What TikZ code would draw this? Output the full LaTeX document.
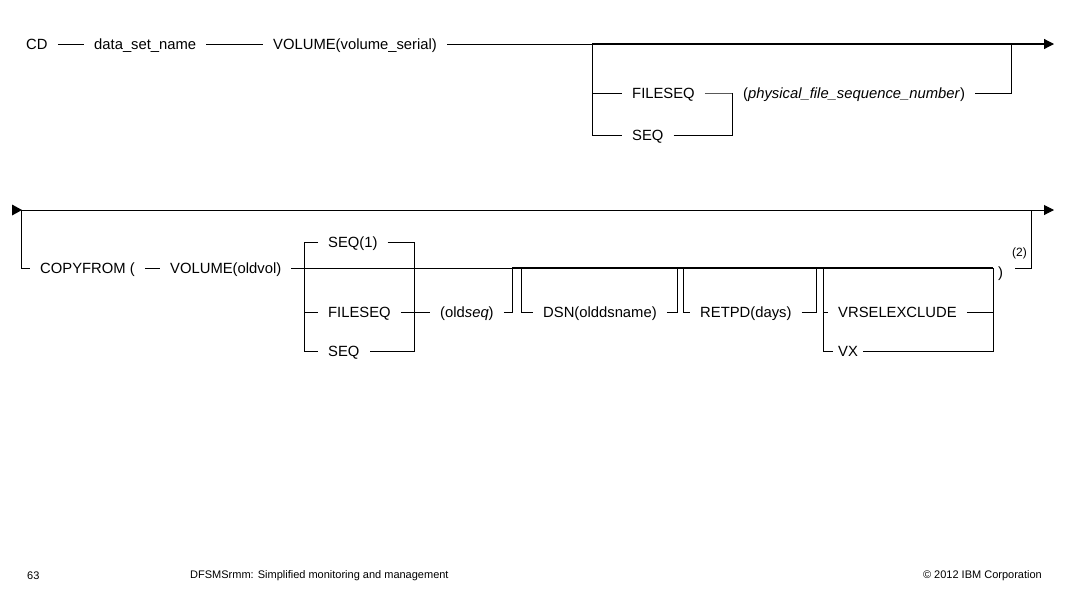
\documentclass[tikz,border=0pt]{standalone}
\usepackage{fontspec}
\setmainfont{Liberation Sans}
\usetikzlibrary{arrows.meta}
\begin{document}
\begin{tikzpicture}[x=1pt,y=-1pt,
  kw/.style={font=\fontsize{14.8}{17}\selectfont, inner xsep=10pt, inner ysep=0pt, text height=10.6pt, text depth=0pt, anchor=west},
  thn/.style={line width=1pt},
  thk/.style={line width=1.8pt},
  arr/.style={-{Triangle[length=10pt,width=10pt]}},
  foot/.style={font=\fontsize{11}{13}\selectfont, inner sep=0pt},
  sup/.style={font=\fontsize{12}{14}\selectfont, inner sep=0pt, anchor=west}]
\useasboundingbox (0,0) rectangle (1065,598);
\fill[white] (0,0) rectangle (1065,598);

% ---------- Row 1 ----------
\node[kw] (cd)  at (16,44)  {CD};
\node[kw] (dsn) at (84,44)  {data\_set\_name};
\node[kw] (vol) at (263,44) {VOLUME(volume\_serial)};
\coordinate (b1top) at (592,44);
\coordinate (b1mid) at (592,93);
\coordinate (b1bot) at (592,135);
\coordinate (r1end) at (1054,44);
\node[kw] (fs1) at (622,93)  {FILESEQ};
\node[kw] (sq1) at (622,135) {SEQ};
\coordinate (j1) at (732,93);
\node[kw] (phys) at (733,93) {(\textit{physical\_file\_sequence\_number})};
\coordinate (r1rt) at (1011,44);

\draw[thn] (cd.east) -- (dsn.west);
\draw[thn] (dsn.east) -- (vol.west);
\draw[line width=0.9pt] (vol.east) -- (b1top);
\draw[line width=1.2pt, arr] (b1top) -- (r1end);
\draw[thn] (b1top) |- (sq1.west);
\draw[thn] (b1mid) -- (fs1.west);
\draw[thn] (fs1.east) -- (j1) -- (phys.west);
\draw[thn] (sq1.east) -| (j1);
\draw[thn] (phys.east) -| (r1rt);

% ---------- Row 2 ----------
\coordinate (r2c) at (22,210);
\coordinate (r2v) at (21,210);
\coordinate (r2end) at (1054,210);
\fill (12,204.5) -- (22,210) -- (12,215.5) -- cycle;
\draw[thn, arr] (r2c) -- (r2end);

\node[kw] (cf) at (30,268)  {COPYFROM (};
\node[kw] (ov) at (160,268) {VOLUME(oldvol)};
\draw[thn] (r2v) |- (cf.west);
\draw[thn] (cf.east) -- (ov.west);

% SEQ(1) / FILESEQ / SEQ group
\coordinate (g1t) at (304,242);
\coordinate (g1m) at (304,312);
\coordinate (g1rb) at (414,351);
\node[kw] (s1)  at (318,242) {SEQ(1)};
\node[kw] (fs2) at (318,312) {FILESEQ};
\node[kw] (sq2) at (318,351) {SEQ};
\node[kw] (oseq) at (430,312) {(old\textit{seq})};

% main line
\coordinate (m1) at (512,268);
\coordinate (mend) at (993,268);
\draw[thn] (ov.east) -- (m1);
\draw[thk] (m1) -- (mend);

\draw[thn] (s1.west) -| (g1t) |- (sq2.west);
\draw[thn] (g1m) -- (fs2.west);
\draw[thn] (s1.east) -| (g1rb) -- (sq2.east);
\draw[thn] (fs2.east) -- (oseq.west);
\draw[thn] (oseq.east) -| (m1);

% DSN
\coordinate (d1) at (521,268);
\node[kw] (dsnn) at (533,312) {DSN(olddsname)};
\coordinate (d2) at (677,268);
\draw[thn] (d1) |- (dsnn.west);
\draw[thn] (dsnn.east) -| (d2);

% RETPD
\coordinate (rp1) at (683,268);
\node[kw] (rp) at (690,312) {RETPD(days)};
\coordinate (rp2) at (816,268);
\draw[thn] (rp1) |- (rp.west);
\draw[thn] (rp.east) -| (rp2);

% VRSELEXCLUDE / VX
\coordinate (v1) at (823,268);
\node[kw] (vr) at (828,312) {VRSELEXCLUDE};
\node[kw] (vx) at (828,351) {VX};
\coordinate (v2b) at (993,351);
\draw[thn] (v1) |- ([xshift=5pt]vx.west);
\draw[thn] ([xshift=-5pt]vr.west) -- (vr.west);
\draw[thn] (vr.east) -- (vr.east -| mend);
\draw[thn] (mend) -- (v2b) -- ([xshift=-5pt]vx.east);

% closing parenthesis and note
\node[kw, inner xsep=2pt] (par) at (996,272) {)};
\node[sup] (note) at (1012,253) {(2)};
\coordinate (pe) at (1015,268);
\coordinate (pr) at (1031,268);
\coordinate (prt) at (1031,210);
\draw[thn] (pe) -- (pr) -- (prt);

% ---------- Footer ----------
\node[foot, anchor=west] (pg)  at (27,576)   {63};
\node[foot, anchor=west] (ttl) at (190,576)  {DFSMSrmm: Simplified monitoring and management};
\node[foot, anchor=east] (cr)  at (1042,576) {© 2012 IBM Corporation};
\end{tikzpicture}
\end{document}
